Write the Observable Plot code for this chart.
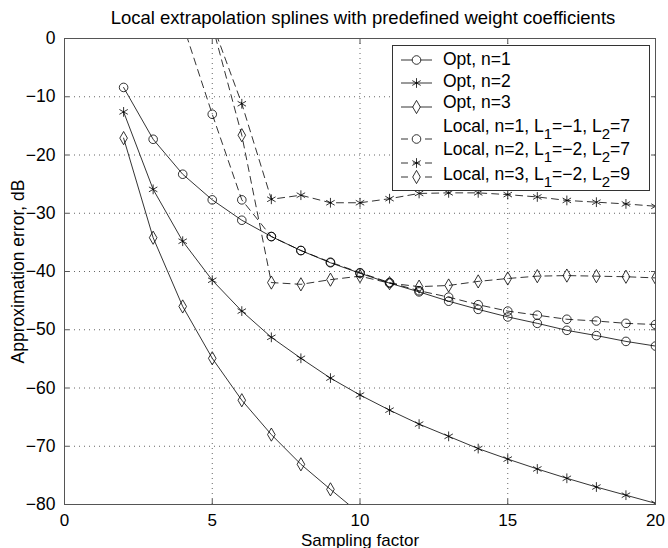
<!DOCTYPE html>
<html><head><meta charset="utf-8">
<script src="https://cdn.jsdelivr.net/npm/d3@7"></script>
<script src="https://cdn.jsdelivr.net/npm/@observablehq/plot@0.6"></script>
<style>
body{margin:0;background:#fff;font-family:"Liberation Sans",Arial,Helvetica,sans-serif;}
#wrap{position:relative;width:668px;height:548px;overflow:hidden;}
#title{position:relative;z-index:2;height:24px;line-height:36px;text-align:center;font-size:18.5px;padding-left:58px;color:#000;white-space:nowrap;overflow:visible;}
#chart{position:relative;z-index:1;}
#legend{position:absolute;left:392px;top:45px;z-index:3;}
</style></head><body>
<div id="wrap">
<div id="title">Local extrapolation splines with predefined weight coefficients</div>
<div id="chart"></div>
<svg id="legend" width="258" height="147"></svg>
</div>
<script>
// ---- data ----
const xOpt = [2,3,4,5,6,7,8,9,10,11,12,13,14,15,16,17,18,19,20];
const opt1 = [-8.4,-17.3,-23.3,-27.7,-31.2,-34.0,-36.4,-38.5,-40.3,-42.0,-43.5,-45.1,-46.5,-47.8,-48.9,-50.1,-51.0,-52.0,-52.8];
const opt2 = [-12.6,-25.9,-34.8,-41.5,-46.8,-51.3,-54.9,-58.3,-61.2,-63.8,-66.2,-68.3,-70.4,-72.2,-73.9,-75.5,-77.0,-78.4,-79.8];
const xOpt3 = [2,3,4,5,6,7,8,9,10];
const opt3 = [-17.1,-34.2,-46.0,-54.9,-62.1,-68.0,-73.1,-77.4,-81.6];
const xLoc1 = [4,5,6,7,8,9,10,11,12,13,14,15,16,17,18,19,20];
const loc1 = [2.5,-13.0,-27.7,-34.0,-36.4,-38.4,-40.2,-41.9,-43.3,-44.4,-45.7,-46.8,-47.5,-48.2,-48.5,-48.9,-49.1];
const xLoc = [5,6,7,8,9,10,11,12,13,14,15,16,17,18,19,20];
const loc2 = [2.6,-11.2,-27.6,-26.9,-28.2,-28.2,-27.5,-26.6,-26.5,-26.5,-26.8,-27.2,-27.8,-28.1,-28.4,-28.8];
const loc3 = [2.3,-16.6,-41.9,-42.2,-41.4,-40.8,-42.0,-42.6,-42.4,-41.7,-41.2,-40.8,-40.7,-40.8,-40.9,-41.1];
const xTicks = [0,5,10,15,20];
const yTicks = [0,-10,-20,-30,-40,-50,-60,-70,-80];
const seriesNames = ["Opt, n=1","Opt, n=2","Opt, n=3",
  "Local, n=1, L_1=−1, L_2=7","Local, n=2, L_1=−2, L_2=7","Local, n=3, L_1=−2, L_2=9"];
const seriesX = [xOpt, xOpt, xOpt3, xLoc1, xLoc, xLoc];
const seriesY = [opt1, opt2, opt3, loc1, loc2, loc3];
const seriesSymbol = ["circle","asterisk","diamond","circle","asterisk","diamond"];
const seriesDashed = [false,false,false,true,true,true];

// ---- build ----
const FONT = "'Liberation Sans', Arial, sans-serif";
const symR = {circle: 4.3, asterisk: 4.6, diamond: 4.0};
const rows = seriesNames.map((name, i) => seriesX[i].map((x, j) => ({name, x, y: seriesY[i][j]})));
const lineMarks = [], dotMarks = [];
rows.forEach((data, i) => {
  lineMarks.push(Plot.line(data, {x: "x", y: "y", stroke: "#000", strokeWidth: 0.8,
    strokeDasharray: seriesDashed[i] ? "7,5" : null, clip: true}));
  dotMarks.push(Plot.dot(data, {x: "x", y: "y", symbol: seriesSymbol[i], r: symR[seriesSymbol[i]],
    stroke: "#000", strokeWidth: 0.8, fill: "none", clip: true}));
});

const chart = Plot.plot({
  width: 668, height: 524,
  marginTop: 14, marginBottom: 44, marginLeft: 64, marginRight: 13,
  style: {fontFamily: FONT, fontSize: "17.5px", background: "transparent", color: "#000", overflow: "visible"},
  x: {domain: [0, 20]},
  y: {domain: [-80, 0]},
  marks: [
    Plot.gridX(xTicks, {stroke: "#666", strokeOpacity: 1, strokeDasharray: "1,4"}),
    Plot.gridY(yTicks, {stroke: "#666", strokeOpacity: 1, strokeDasharray: "1,4"}),
    ...lineMarks,
    ...dotMarks,
    Plot.frame({stroke: "#555"}),
    Plot.axisX(xTicks, {anchor: "bottom", tickSize: -5, tickPadding: 14, stroke: "#555", fontSize: 17,
      label: null}),
    Plot.axisX(xTicks, {anchor: "top", tickSize: -5, tickFormat: () => "", label: null, stroke: "#555"}),
    Plot.axisY(yTicks, {anchor: "left", tickSize: -5, tickPadding: 14, stroke: "#555", fontSize: 17.5,
      label: "Approximation error, dB", labelAnchor: "center", labelOffset: 53, labelArrow: "none"}),
    Plot.axisY(yTicks, {anchor: "right", tickSize: -5, tickFormat: () => "", label: null, stroke: "#555"}),
    Plot.text(["Sampling factor"], {frameAnchor: "bottom", dy: 41, fontSize: 17, lineAnchor: "bottom"})
  ]
});
document.getElementById("chart").appendChild(chart);

// ---- legend ----
const lg = d3.select("#legend");
lg.append("rect").attr("x", 0.5).attr("y", 0.5).attr("width", 257).attr("height", 145)
  .attr("fill", "#fff").attr("stroke", "#333");
const rowSym = [15, 38, 62, 94, 118, 132];
const rowTxt = [20, 42, 63, 87, 110, 135];
seriesNames.forEach((name, i) => {
  const g = lg.append("g");
  g.append("line").attr("x1", 9).attr("x2", 40).attr("y1", rowSym[i]).attr("y2", rowSym[i])
    .attr("stroke", "#000").attr("stroke-width", 0.8)
    .attr("stroke-dasharray", seriesDashed[i] ? "7,5" : null);
  const type = {circle: d3.symbolCircle, asterisk: d3.symbolAsterisk, diamond: d3.symbolDiamond}[seriesSymbol[i]];
  const r = symR[seriesSymbol[i]];
  g.append("path").attr("d", d3.symbol(type, Math.PI * r * r)())
    .attr("transform", `translate(24.5,${rowSym[i]})`)
    .attr("fill", seriesSymbol[i] === "asterisk" ? "none" : "#fff").attr("stroke", "#000").attr("stroke-width", 0.8);
  const t = g.append("text").attr("x", 51).attr("y", rowTxt[i]).attr("font-size", 17.5)
    .attr("font-family", FONT);
  let shift = 0;
  name.split(/(_\d)/).forEach(part => {
    if (!part) return;
    if (part.startsWith("_")) {
      t.append("tspan").attr("dy", 7).attr("font-size", 15).text(part.slice(1));
      shift = -7;
    } else {
      t.append("tspan").attr("dy", shift).text(part);
      shift = 0;
    }
  });
});
</script>
</body></html>
